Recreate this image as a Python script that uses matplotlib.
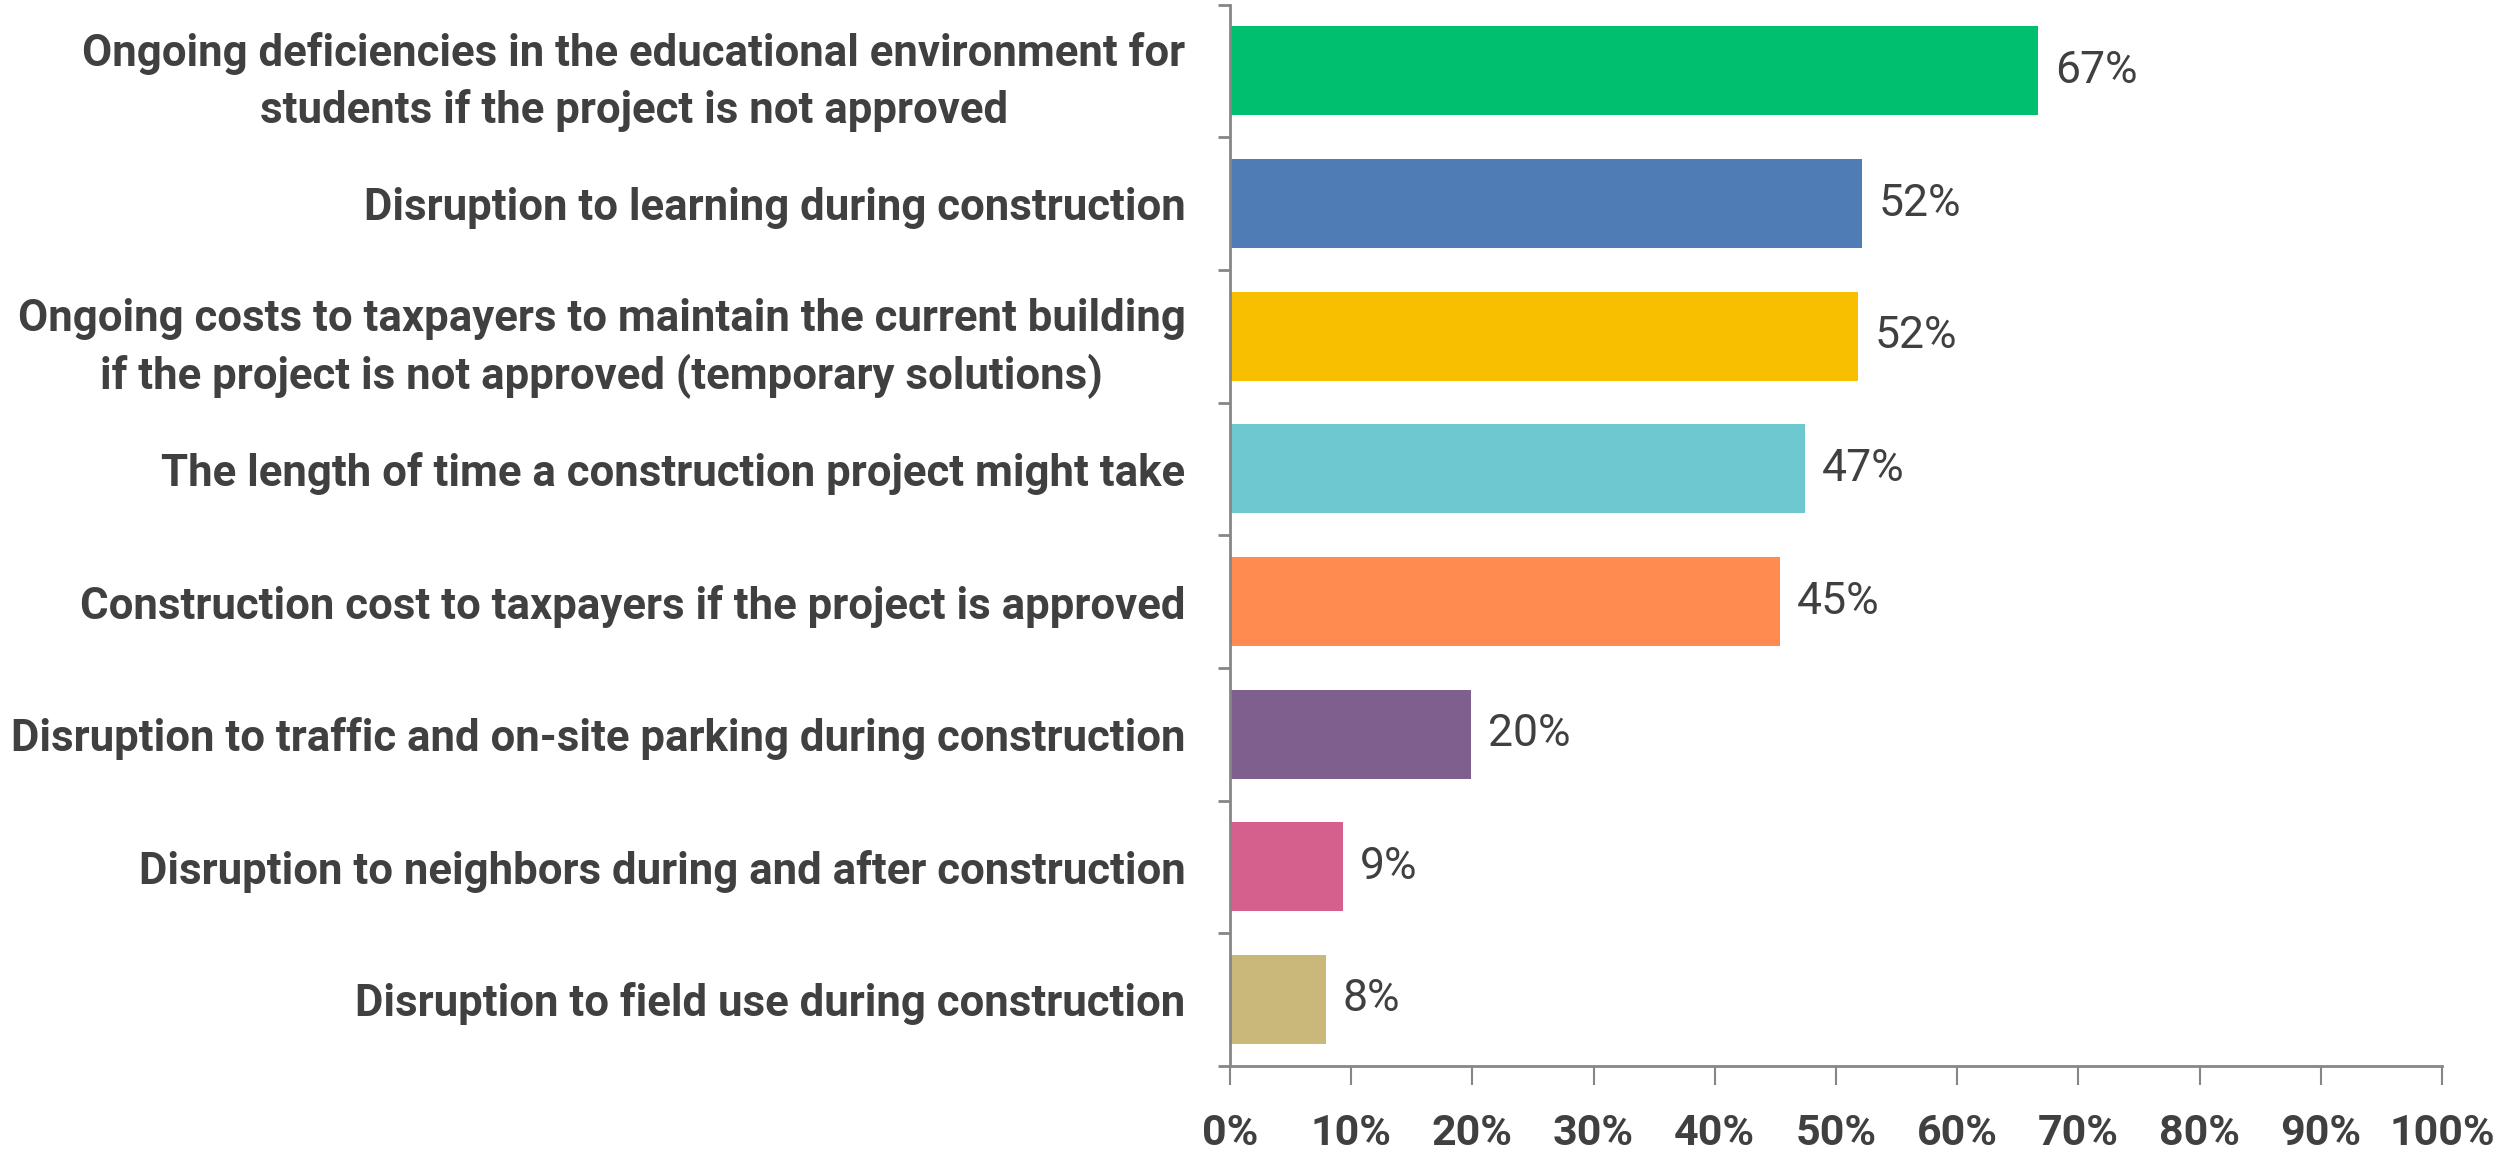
import matplotlib.pyplot as plt
import numpy as np
from matplotlib.ticker import FixedLocator

plt.rcParams['font.family'] = ['Liberation Sans Narrow', 'Roboto', 'DejaVu Sans']

categories = [
    "Ongoing deficiencies in the educational environment for\nstudents if the project is not approved",
    "Disruption to learning during construction",
    "Ongoing costs to taxpayers to maintain the current building\nif the project is not approved (temporary solutions)",
    "The length of time a construction project might take",
    "Construction cost to taxpayers if the project is approved",
    "Disruption to traffic and on-site parking during construction",
    "Disruption to neighbors during and after construction",
    "Disruption to field use during construction",
]
values = [66.7, 52.1, 51.8, 47.4, 45.4, 19.9, 9.3, 7.9]
bar_colors = ['#00BF6F', '#4F7CB5', '#F8BF00', '#6DC9CF', '#FF8B50', '#7F5F8E', '#D5608E', '#C9B87A']
x_ticks = list(range(0, 101, 10))

fig = plt.figure(figsize=(24.95, 11.51), dpi=100)
ax = fig.add_axes([0.493, 0.074, 0.4858, 0.922])

y = np.arange(len(categories))
ax.barh(y, values, height=0.67, color=bar_colors)
ax.set_ylim(len(categories) - 0.5, -0.5)
ax.set_xlim(0, 100)

for yi, v in zip(y, values):
    ax.text(v + 1.4, yi, f"{round(v)}%", va='center', ha='left',
            fontsize=32, color='#404040')

ax.set_yticks(y)
ax.set_yticklabels(categories, fontsize=31.5, fontweight='bold', color='#404040',
                   multialignment='center', linespacing=1.4)
ax.yaxis.set_minor_locator(FixedLocator(np.arange(-0.5, len(categories), 1)))
ax.tick_params(axis='y', which='major', length=0, pad=32)
ax.tick_params(axis='y', which='minor', length=9, width=2, color='#868686')

ax.set_xticks(x_ticks)
ax.set_xticklabels([f"{t}%" for t in x_ticks], fontsize=31, fontweight='bold', color='#404040')
ax.tick_params(axis='x', length=14, width=1.5, color='#868686', pad=20)

for s in ['top', 'right']:
    ax.spines[s].set_visible(False)
for s in ['left', 'bottom']:
    ax.spines[s].set_color('#868686')
    ax.spines[s].set_linewidth(2)

fig.savefig('out.png', dpi=100)
